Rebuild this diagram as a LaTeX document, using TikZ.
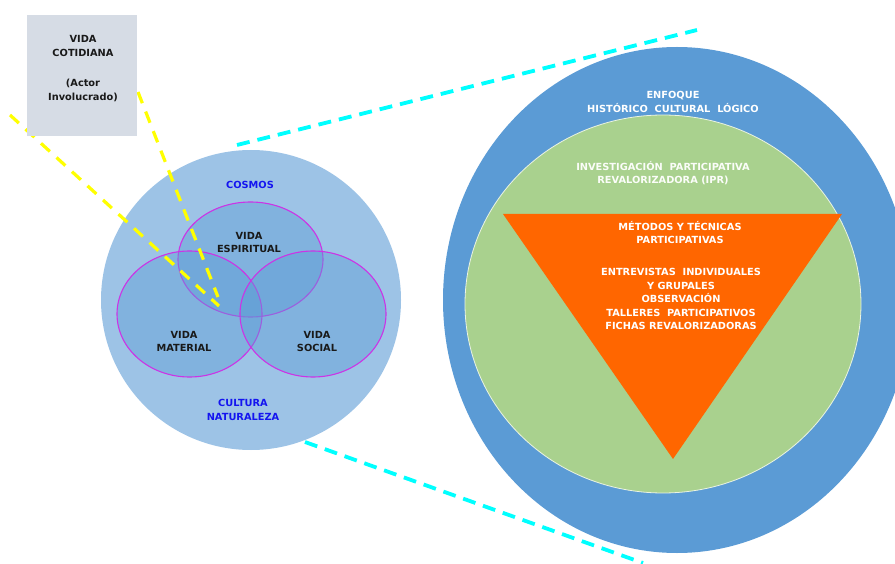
\documentclass[tikz,border=0pt]{standalone}
\usepackage{fontspec}
\setmainfont{DejaVu Sans}
\definecolor{boxgray}{HTML}{D6DCE5}
\definecolor{cosmosblue}{HTML}{9DC3E6}
\definecolor{lifeblue}{HTML}{5B9BD5}
\definecolor{ringblue}{HTML}{5B9BD5}
\definecolor{iprgreen}{HTML}{A9D18E}
\definecolor{metodorange}{HTML}{FF6600}
\definecolor{vennline}{HTML}{CC33E6}
\definecolor{labelblue}{HTML}{1414F0}
\definecolor{zoomcyan}{HTML}{00FFFF}
\definecolor{guideyellow}{HTML}{FFFF00}

\begin{document}
\begin{tikzpicture}[x=1pt,y=-1pt,
  txt/.style={font=\bfseries\fontsize{9.8}{13.5}\selectfont,align=center,inner sep=0pt},
  life/.style={draw=vennline,line width=1.1pt,fill=lifeblue,fill opacity=0.42,draw opacity=1},
  zoomline/.style={draw=zoomcyan,line width=3.8pt,dash pattern=on 13pt off 8pt},
  guideline/.style={draw=guideyellow,line width=3.2pt,dash pattern=on 12pt off 9pt}]
\useasboundingbox (0,0) rectangle (895,564);
\coordinate (cosmos) at (251,300);
\coordinate (esp) at (250.5,259.5);
\coordinate (mat) at (189.5,314);
\coordinate (soc) at (313,314);
\coordinate (ring) at (677,300);
\coordinate (ipr) at (663,304);
\coordinate (TL) at (503,214);
\coordinate (TR) at (842,214);
\coordinate (TB) at (673,459);
\coordinate (zoomA) at (237,145);
\coordinate (zoomB) at (697,30);
\coordinate (zoomC) at (305,442);
\coordinate (zoomD) at (643,563);
\coordinate (guideA) at (10,115);
\coordinate (guideB) at (219,306);
\coordinate (guideC) at (138,92);
\coordinate (guideD) at (218,297);
% zoom lines
\draw[zoomline] (zoomA) -- (zoomB);
\draw[zoomline] (zoomC) -- (zoomD);
% right side
\fill[ringblue] (ring) ellipse [x radius=234pt,y radius=253pt];
\draw[iprgreen,fill=iprgreen,draw=white!75!iprgreen,line width=0.8pt] (ipr) ellipse [x radius=198pt,y radius=189pt];
\fill[metodorange] (TL) -- (TR) -- (TB) -- cycle;
\node[txt,text=white] (enfoque) at (673,102) {ENFOQUE\\HISTÓRICO\ \ CULTURAL\ \ LÓGICO};
\node[txt,text=white!95!iprgreen] (iprtext) at (663,173) {INVESTIGACIÓN\ \ PARTICIPATIVA\\REVALORIZADORA (IPR)};
\node[txt,text=white] (metodos) at (680,232.5) {MÉTODOS Y TÉCNICAS\\PARTICIPATIVAS};
\node[txt,text=white] (tecnicas) at (681,299) {ENTREVISTAS\ \ INDIVIDUALES\\Y GRUPALES\\OBSERVACIÓN\\TALLERES\ \ PARTICIPATIVOS\\FICHAS REVALORIZADORAS};
% left side
\fill[cosmosblue] (cosmos) circle [radius=150pt];
\draw[life] (esp) ellipse [x radius=72.5pt,y radius=57.5pt];
\draw[life] (mat) ellipse [x radius=72.5pt,y radius=63pt];
\draw[life] (soc) ellipse [x radius=73pt,y radius=63pt];
\node[txt,text=labelblue] (cosmostext) at (250,185) {COSMOS};
\node[txt,text=labelblue] (cultura) at (243,410) {CULTURA\\NATURALEZA};
\node[txt,text=black!90] (espiritual) at (249,242.5) {VIDA\\ESPIRITUAL};
\node[txt,text=black!90] (material) at (184,341.5) {VIDA\\MATERIAL};
\node[txt,text=black!90] (social) at (317,341.5) {VIDA\\SOCIAL};
\draw[guideline] (guideA) -- (guideB);
\draw[guideline] (guideC) -- (guideD);
% actor box
\node[fill=boxgray,minimum width=110pt,minimum height=121pt,inner sep=0pt] (cotidiana) at (82,75.5) {};
\node[txt,text=black!90] (actor) at (83,68.5) {VIDA\\COTIDIANA\\[17pt](Actor\\Involucrado)};
\end{tikzpicture}
\end{document}
